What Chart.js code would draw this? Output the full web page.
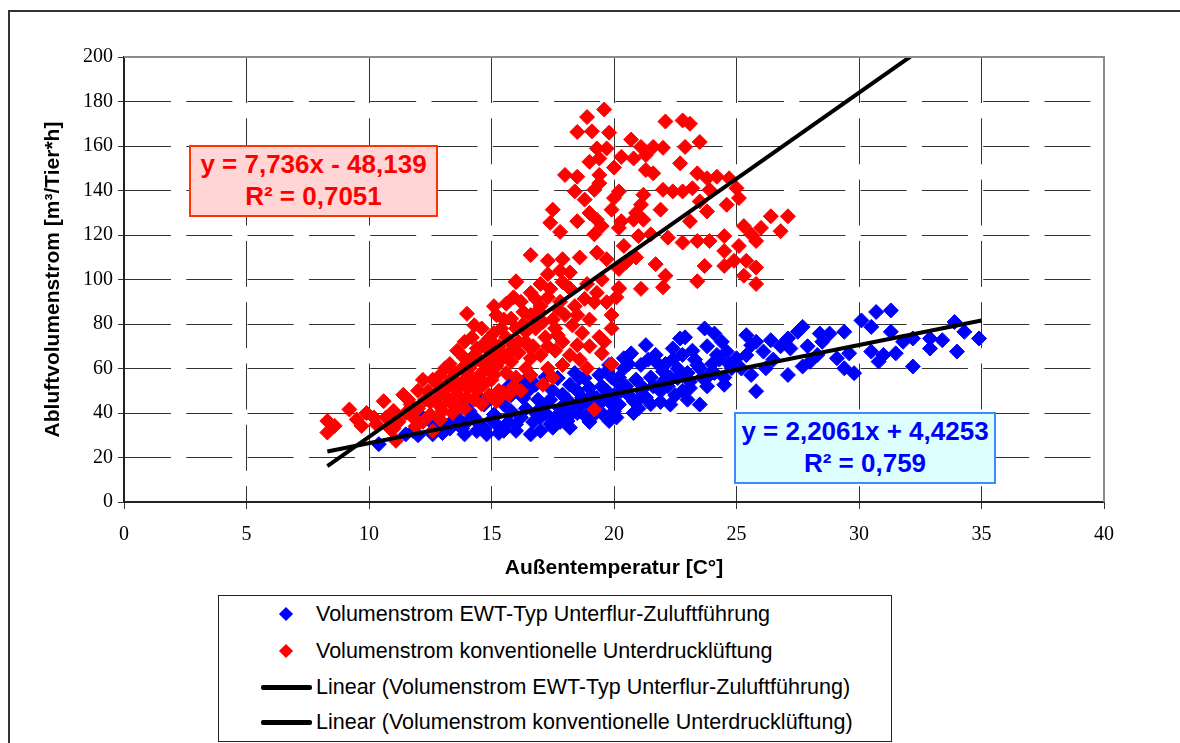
<!DOCTYPE html>
<html>
<head>
<meta charset="utf-8">
<script src="https://cdn.jsdelivr.net/npm/chart.js@4.4.0/dist/chart.umd.min.js"></script>
<style>
body { margin: 0; background: #fff; }
#wrap { position: relative; width: 1180px; height: 743px; overflow: hidden; }
#frame { position: absolute; left: 8px; top: 10px; width: 1300px; height: 900px; border-top: 2px solid #333; border-left: 2px solid #333; }
#chart { position: absolute; left: 0; top: 0; }
.eq { position: absolute; box-sizing: border-box; border: 2px solid; font: bold 26px "Liberation Sans", Arial, sans-serif; text-align: center; line-height: 32px; padding-top: 1px; white-space: nowrap; }
#eqRed { left: 189px; top: 145px; width: 249px; height: 72px; border-color: #ff3300; background: #ffd5d5; color: #ff0000; }
#eqBlue { left: 734px; top: 412px; width: 262px; height: 72px; border-color: #3d8bff; background: #ddffff; color: #0000ff; }
#legend { position: absolute; left: 218px; top: 595px; width: 674px; height: 147px; box-sizing: border-box; border: 1px solid #222; background: #fff; font: 21.5px "Liberation Sans", Arial, sans-serif; color: #000; }
.li { position: absolute; left: 0; width: 660px; height: 26px; }
.li .txt { position: absolute; left: 97px; top: 0; line-height: 26px; white-space: nowrap; }
.li .dia { position: absolute; left: 62px; top: 8px; width: 10px; height: 10px; transform: rotate(45deg); }
.li .ln { position: absolute; left: 42px; top: 11px; width: 51px; height: 5px; background: #000; border-radius: 2px; }
</style>
</head>
<body>
<div id="wrap">
  <div id="frame"></div>
  <canvas id="chart" width="1180" height="743"></canvas>
  <div id="eqRed" class="eq"></div>
  <div id="eqBlue" class="eq"></div>
  <div id="legend"></div>
</div>
<script>
// Außentemperatur [°C] / Abluftvolumenstrom [m³/Tier*h]
const ewtPoints = [
  [23.7,78.0],[24.1,75.7],[22.7,73.5],[25.4,75.0],[25.8,72.0],[26.4,72.7],[27.1,73.5],[27.5,76.5],[27.7,78.7],[28.4,75.7],
  [28.8,75.7],[29.4,76.5],[30.1,81.6],[30.7,85.4],[31.3,86.1],[30.5,78.7],[31.3,76.5],[31.8,72.0],[32.2,73.5],[32.9,73.5],
  [33.4,72.7],[33.9,80.9],[34.3,76.5],[34.9,73.5],[34.0,67.6],[32.9,69.0],[32.2,60.9],[31.5,66.8],[31.0,66.1],[30.5,67.6],
  [30.8,63.1],[29.8,57.9],[29.4,60.1],[29.1,64.6],[29.6,66.8],[28.5,72.0],[27.7,60.9],[27.1,57.1],[28.3,66.1],[27.2,69.0],
  [26.1,67.6],[25.6,70.5],[25.8,49.8],[25.6,57.1],[26.2,60.1],[25.0,64.6],[24.6,67.6],[24.8,60.1],[24.2,66.1],[23.9,57.1],
  [24.5,52.7],[23.5,43.8],[23.4,61.6],[22.8,66.1],[22.4,69.0],[23.1,51.2],[22.6,55.7],[22.0,58.7],[21.7,66.1],[21.3,70.5],
  [21.1,61.6],[20.7,66.8],[20.4,60.1],[21.2,51.2],[21.9,49.8],[22.3,43.8],[20.8,45.3],[20.1,54.2],[19.8,61.6],[19.4,57.1],
  [19.6,46.8],[19.0,51.2],[18.8,55.7],[18.2,52.7],[17.9,48.2],[17.7,55.7],[18.5,43.8],[19.2,39.3],[20.0,40.8],[18.1,36.4],
  [17.5,33.4],[10.4,26.0],[11.5,30.4],[12.2,37.9],[12.6,30.4],[13.4,36.4],[13.9,30.4],[14.4,31.9],[14.8,30.4],[15.2,34.9],
  [15.8,40.8],[16.0,55.7],[16.3,46.8],[15.5,43.8],[16.0,34.9],[16.6,30.4],[16.8,52.7],[17.1,43.8],[17.4,34.9],[17.7,55.7],
  [17.9,48.2],[18.2,33.4],[18.6,55.7],[18.9,37.9],[19.3,46.8],[19.7,58.7],[19.8,36.4],[20.4,64.6],[20.2,43.8],[14.1,40.8],
  [14.7,43.8],[13.7,43.8],[15.1,39.3],[13.0,34.9],[12.5,36.4],[11.8,31.9],[16.5,50.0],[17.0,38.0],[17.5,50.0],[18.0,42.0],
  [18.5,40.0],[19.0,44.0],[19.5,40.0],[20.0,48.0],[20.5,52.0],[21.0,46.0],[21.5,56.0],[22.0,54.0],[22.5,48.0],[23.0,58.0],
  [23.5,60.0],[24.0,62.0],[24.5,56.0],[20.8,40.0],[21.5,44.0],[22.2,52.0],[23.0,46.0],[21.0,42.0],[19.0,36.0],[18.0,38.0],
  [17.0,32.0],[16.0,32.0],[15.5,32.0],[14.5,35.0],[13.8,33.0],[13.0,31.0],[12.0,30.0],[15.8,48.0],[16.8,40.0],[17.8,42.0],
  [18.5,50.0],[19.5,52.0],[20.2,56.0],[21.8,62.0],[22.4,64.0],[23.2,68.0],[23.8,70.0],[24.4,72.0],[22.9,74.0],
  [12.8,33.0],[13.3,33.0],[13.6,38.0],[14.0,36.0],[14.3,38.0],[14.7,33.0],[15.0,37.0],[15.3,31.0],[15.7,36.0],[16.2,38.0],
  [16.4,42.0],[16.7,36.0],[16.9,46.0],[17.2,40.0],[17.4,46.0],[17.6,38.0],[17.8,36.0],[18.1,46.0],[18.3,40.0],[18.7,47.0],
  [18.9,42.0],[19.1,48.0],[19.4,44.0],[19.7,50.0],[19.9,44.0],[20.1,38.0],[20.3,50.0],[20.6,48.0],[20.9,55.0],[21.1,50.0],
  [21.3,47.0],[21.6,52.0],[21.9,45.0],[22.1,62.0],[22.3,56.0],[22.6,60.0],[22.8,50.0],[23.1,54.0],[23.3,64.0],[23.6,56.0],
  [23.8,52.0],[24.1,58.0],[24.3,64.0],[24.7,62.0],[25.2,60.0],[25.4,66.0],[26.5,64.0],[26.8,70.0],[27.9,70.0],[28.0,63.0],
  [18.4,58.0],[19.9,56.0],[20.6,62.0],[21.4,64.0],[16.3,54.0],[17.2,56.0],[15.7,52.0],[15.2,48.0],[14.5,47.0],[14.0,44.0]
];

const convPoints = [
  [19.6,176.4],[18.9,173.0],[18.5,166.3],[19.1,166.6],[19.8,166.0],[22.1,171.0],[22.8,171.5],[23.1,170.0],[20.7,162.9],[23.5,161.8],
  [19.3,158.9],[19.7,158.9],[21.1,159.6],[21.6,159.6],[22.0,159.2],[22.9,159.6],[19.0,152.9],[19.4,154.4],[20.0,150.3],[20.3,155.1],
  [20.8,154.4],[21.3,155.9],[21.3,149.2],[21.6,147.7],[22.7,152.2],[18.0,147.0],[18.5,146.2],[19.4,147.0],[19.4,143.3],[19.2,140.3],
  [23.4,147.7],[23.8,145.5],[24.2,146.2],[24.7,145.5],[25.0,141.0],[18.4,139.6],[18.8,135.9],[20.2,139.6],[20.0,136.6],[21.2,138.1],
  [22.0,140.3],[22.4,139.6],[22.8,139.6],[23.2,141.0],[23.9,140.3],[25.1,136.6],[24.6,133.6],[23.5,135.1],[17.5,131.4],[19.0,129.9],
  [19.9,131.4],[21.1,133.6],[21.9,131.4],[20.9,129.9],[23.8,130.6],[17.4,125.5],[18.5,126.2],[19.3,126.9],[19.5,124.0],[20.3,126.2],
  [20.8,126.9],[21.2,126.9],[23.1,126.2],[26.4,128.4],[27.1,128.4],[26.0,123.2],[26.8,121.7],[25.3,124.0],[17.8,121.4],[19.2,120.3],
  [20.2,123.2],[21.0,119.5],[21.5,120.3],[22.2,118.8],[22.8,116.6],[23.4,117.3],[23.9,117.3],[24.5,119.5],[25.6,120.3],[25.8,117.3],
  [25.1,115.1],[16.6,111.0],[17.3,108.4],[17.9,109.1],[18.6,109.9],[19.3,112.1],[19.7,109.1],[20.4,115.1],[20.9,109.9],[21.7,106.9],
  [23.7,106.1],[24.5,112.8],[24.5,106.1],[24.9,108.4],[25.4,108.4],[25.8,105.4],[25.3,101.7],[25.8,98.0],[16.0,99.2],[17.3,102.4],
  [17.8,103.9],[18.2,103.2],[20.2,104.7],[20.5,107.7],[22.1,101.7],[23.4,99.2],[20.2,96.2],[21.1,95.8],[22.0,96.5],
  [8.3,36.4],[8.3,31.2],[8.6,34.2],[9.2,41.6],[9.5,37.1],[9.7,34.2],[10.6,45.3],[10.3,34.9],[11.1,27.5],[10.9,32.6],
  [11.4,48.2],[11.7,43.8],[12.2,54.9],[12.4,49.8],[12.5,39.3],[12.8,52.7],[13.1,60.1],[13.0,40.8],[13.4,55.7],[13.6,48.2],
  [14.0,84.6],[14.3,79.4],[13.9,72.0],[13.9,64.6],[14.1,60.1],[14.0,51.2],[14.4,69.0],[14.5,55.7],[14.7,63.1],[14.9,73.5],
  [15.1,66.1],[15.1,57.1],[15.4,78.0],[15.6,89.1],[15.8,82.4],[15.9,70.5],[16.0,98.8],[16.3,85.4],[16.4,76.5],[16.6,64.6],
  [16.8,91.3],[17.1,80.9],[17.1,52.7],[17.4,95.8],[17.7,86.9],[17.7,75.0],[17.9,98.8],[17.9,61.6],[18.3,79.4],[18.5,70.5],
  [18.8,91.3],[18.9,60.1],[19.2,89.8],[19.4,74.2],[19.5,66.8],[19.7,89.8],[19.9,78.0],[20.2,95.8],[19.2,41.6],[15.7,48.2],
  [15.2,45.3],[15.5,49.0],[12.5,45.0],[12.8,47.0],[13.0,50.0],[13.2,53.0],[13.5,58.0],[13.7,52.0],[13.8,60.0],[14.0,58.0],
  [14.2,62.0],[14.3,66.0],[14.5,64.0],[14.6,70.0],[14.8,60.0],[14.9,68.0],[15.0,72.0],[15.1,76.0],[15.3,70.0],[15.4,64.0],
  [15.5,82.0],[15.6,74.0],[15.8,68.0],[16.0,78.0],[16.1,72.0],[16.2,90.0],[16.3,80.0],[16.5,70.0],[16.6,84.0],[16.8,78.0],
  [17.0,88.0],[17.2,74.0],[17.3,92.0],[17.5,82.0],[17.6,68.0],[17.8,90.0],[18.0,84.0],[18.2,96.0],[18.5,84.0],[18.7,76.0],
  [19.0,82.0],[19.3,94.0],[13.3,45.0],[13.6,44.0],[14.0,47.0],[14.4,50.0],[14.7,53.0],[15.0,55.0],[15.3,50.0],[15.6,58.0],
  [16.0,56.0],[16.4,60.0],[12.0,42.0],[11.8,38.0],[11.5,40.0],[11.2,36.0],[12.2,36.0],[12.6,32.0],[11.0,33.0],
  [12.9,43.0],[13.2,47.0],[13.5,51.0],[13.9,55.0],[14.2,55.0],[14.6,58.0],[14.9,62.0],[15.2,61.0],[15.5,66.0],[15.8,63.0],
  [16.1,67.0],[16.4,72.0],[16.7,70.0],[17.0,66.0],[17.3,70.0],[17.6,78.0],[17.9,72.0],[18.2,66.0],[18.6,64.0],[19.0,70.0],
  [19.6,72.0],[19.9,62.0],[18.4,88.0],[18.9,98.0],[19.5,100.0],[19.9,84.0],[20.1,92.0],[17.0,98.0],[16.6,94.0],[15.9,92.0],
  [15.2,84.0],[14.6,78.0],[14.2,74.0],[13.6,68.0],[13.3,62.0],[12.9,57.0],[12.6,55.0],[12.0,50.0],[11.6,46.0],[11.0,41.0],
  [10.7,38.0],[10.2,38.0],[9.9,40.0],[12.3,46.0],[13.9,42.0],[14.3,46.0],[14.9,48.0],[15.9,52.0],[16.6,57.0],[17.3,60.0],
  [17.5,56.0],[16.2,50.0],[14.6,44.0],[13.4,40.0],[12.9,37.0],[11.9,34.0],[15.1,88.0],[16.9,86.0]
];

// trend line end points as drawn in the picture
const ewtTrend = [[8.3, 22.7], [35.0, 81.6]];
const convTrend = [[8.3, 16.1], [32.1, 200.2]];

const seriesLabels = [
  'Volumenstrom EWT-Typ Unterflur-Zuluftführung',
  'Volumenstrom konventionelle Unterdrucklüftung',
  'Linear (Volumenstrom EWT-Typ Unterflur-Zuluftführung)',
  'Linear (Volumenstrom konventionelle Unterdrucklüftung)'
];
const eqConv = ['y = 7,736x - 48,139', 'R² = 0,7051'];
const eqEwt = ['y = 2,2061x + 4,4253', 'R² = 0,759'];
const xTitle = 'Außentemperatur [C°]';
const yTitle = 'Abluftvolumenstrom [m³/Tier*h]';
const xTicks = { min: 0, max: 40, step: 5 };
const yTicks = { min: 0, max: 200, step: 20 };

const toXY = (arr) => arr.map((p) => ({ x: p[0], y: p[1] }));

const plotBorder = {
  id: 'plotBorder',
  afterDraw(chart) {
    const { ctx, chartArea: a } = chart;
    ctx.save();
    ctx.strokeStyle = '#8c8c8c';
    ctx.lineWidth = 2;
    ctx.beginPath();
    ctx.moveTo(a.left, a.top);
    ctx.lineTo(a.right, a.top);
    ctx.lineTo(a.right, a.bottom);
    ctx.stroke();
    ctx.restore();
  }
};

const tickFont = { family: '"Liberation Serif", "Times New Roman", serif', size: 20 };
const titleFont = { family: '"Liberation Sans", Arial, sans-serif', size: 21, weight: 'bold' };

const chart = new Chart(document.getElementById('chart'), {
  type: 'scatter',
  data: {
    datasets: [
      { label: seriesLabels[0], data: toXY(ewtPoints), pointStyle: 'rectRot', pointRadius: 7.5, borderWidth: 1,
        backgroundColor: '#0000ff', borderColor: '#0000ff', order: 3 },
      { label: seriesLabels[1], data: toXY(convPoints), pointStyle: 'rectRot', pointRadius: 7.5, borderWidth: 1,
        backgroundColor: '#ff0000', borderColor: '#ff0000', order: 2 },
      { label: seriesLabels[2], data: toXY(ewtTrend), showLine: true, pointRadius: 0, borderWidth: 4,
        borderColor: '#000', backgroundColor: '#000', order: 1 },
      { label: seriesLabels[3], data: toXY(convTrend), showLine: true, pointRadius: 0, borderWidth: 4,
        borderColor: '#000', backgroundColor: '#000', order: 0 }
    ]
  },
  options: {
    responsive: false,
    animation: false,
    devicePixelRatio: 1,
    layout: { padding: { left: 0, top: 57, right: 76, bottom: 151 } },
    plugins: { legend: { display: false }, tooltip: { enabled: false } },
    scales: {
      x: {
        type: 'linear', min: xTicks.min, max: xTicks.max,
        ticks: { stepSize: xTicks.step, padding: 14, color: '#000', font: tickFont },
        grid: { color: '#333', tickLength: 7, tickColor: '#333' },
        border: { color: '#222', width: 2, dash: [46, 15.3] },
        title: { display: true, text: xTitle, color: '#000', font: titleFont, padding: { top: 0, bottom: 11 } },
        afterFit(s) { s.height = 90; }
      },
      y: {
        min: yTicks.min, max: yTicks.max,
        ticks: { stepSize: yTicks.step, padding: 5, color: '#000', font: tickFont },
        grid: { color: '#333', tickLength: 6, tickColor: '#333' },
        border: { color: '#222', width: 2, dash: [46, 15.3] },
        title: { display: true, text: yTitle, color: '#000', font: titleFont, padding: { top: 41, bottom: 0 } },
        afterFit(s) { s.width = 124; }
      }
    }
  },
  plugins: [plotBorder]
});

// equation labels of the trend lines
document.getElementById('eqRed').innerHTML = eqConv.join('<br>');
document.getElementById('eqBlue').innerHTML = eqEwt.join('<br>');

// legend built from the datasets
const legend = document.getElementById('legend');
const rowTops = [5, 42, 78, 113];
chart.data.datasets.forEach((ds, i) => {
  const row = document.createElement('div');
  row.className = 'li';
  row.style.top = rowTops[i] + 'px';
  const mark = document.createElement('span');
  if (ds.showLine) {
    mark.className = 'ln';
    mark.style.background = ds.borderColor;
  } else {
    mark.className = 'dia';
    mark.style.background = ds.backgroundColor;
  }
  const txt = document.createElement('span');
  txt.className = 'txt';
  txt.textContent = ds.label;
  row.appendChild(mark);
  row.appendChild(txt);
  legend.appendChild(row);
});
</script>
</body>
</html>
